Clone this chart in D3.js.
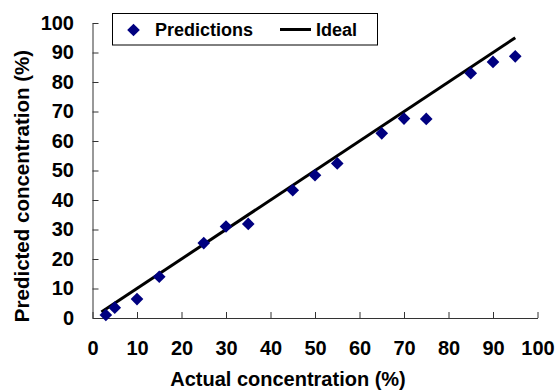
<!DOCTYPE html>
<html>
<head>
<meta charset="utf-8">
<script src="https://cdn.jsdelivr.net/npm/d3@7"></script>
<style>
  body { margin: 0; background: #fff; }
  text { font-family: "Liberation Sans", Arial, sans-serif; font-weight: bold; }
</style>
</head>
<body>
<div id="chart"></div>
<script>
// values
const actual = [3, 5, 10, 15, 25, 30, 35, 45, 50, 55, 65, 70, 75, 85, 90, 95];
const predicted = [1.0, 3.5, 6.4, 14.0, 25.4, 31.0, 31.9, 43.3, 48.4, 52.4, 62.6, 67.6, 67.5, 83.0, 86.8, 88.7];
const idealLine = [2, 95];
const xTicks = [0, 10, 20, 30, 40, 50, 60, 70, 80, 90, 100];
const yTicks = [0, 10, 20, 30, 40, 50, 60, 70, 80, 90, 100];

const width = 556, height = 390;
const margin = { left: 92.5, right: 18.5, top: 23, bottom: 72 };

const svg = d3.select('#chart')
  .append('svg')
  .attr('width', width)
  .attr('height', height);

const x = d3.scaleLinear().domain([0, 100]).range([margin.left, width - margin.right]);
const y = d3.scaleLinear().domain([0, 100]).range([height - margin.bottom, margin.top]);

// axes, ticks point inward
const xAxis = svg.append('g')
  .attr('transform', `translate(0,${y(0)})`)
  .call(d3.axisBottom(x).tickValues(xTicks).tickSizeInner(-6).tickSizeOuter(0).tickPadding(23));
const yAxis = svg.append('g')
  .attr('transform', `translate(${x(0)},0)`)
  .call(d3.axisLeft(y).tickValues(yTicks).tickSizeInner(-6).tickSizeOuter(0).tickPadding(18.5));

[xAxis, yAxis].forEach(g => {
  g.select('.domain').attr('stroke', '#333');
  g.selectAll('.tick line').attr('stroke', '#333');
  g.selectAll('.tick text')
    .attr('fill', '#000')
    .style('font-size', '20px')
    .style('font-family', '"Liberation Sans", Arial, sans-serif')
    .style('font-weight', 'bold');
});

// ideal line y = x
svg.append('line')
  .attr('x1', x(idealLine[0])).attr('y1', y(idealLine[0]))
  .attr('x2', x(idealLine[1])).attr('y2', y(idealLine[1]))
  .attr('stroke', '#000')
  .attr('stroke-width', 3);

// prediction diamonds
const diamond = d3.symbol().type(d3.symbolSquare).size(80);
svg.selectAll('path.pt')
  .data(actual)
  .enter()
  .append('path')
  .attr('class', 'pt')
  .attr('d', diamond)
  .attr('transform', (d, i) => `translate(${x(d)},${y(predicted[i])}) rotate(45)`)
  .attr('fill', '#000080');

// axis titles
svg.append('text')
  .attr('x', 288)
  .attr('y', 386)
  .attr('text-anchor', 'middle')
  .style('font-size', '20px')
  .text('Actual concentration (%)');

svg.append('text')
  .attr('transform', 'translate(28.5,186) rotate(-90)')
  .attr('text-anchor', 'middle')
  .style('font-size', '20.5px')
  .text('Predicted concentration (%)');

// legend
const legend = svg.append('g');
legend.append('rect')
  .attr('x', 112.5).attr('y', 13.5)
  .attr('width', 265).attr('height', 31.5)
  .attr('fill', '#fff')
  .attr('stroke', '#000')
  .attr('stroke-width', 1);
legend.append('path')
  .attr('d', diamond)
  .attr('transform', 'translate(133.5,30) rotate(45)')
  .attr('fill', '#000080');
legend.append('text')
  .attr('x', 155).attr('y', 36)
  .style('font-size', '18px')
  .text('Predictions');
legend.append('line')
  .attr('x1', 280).attr('x2', 311)
  .attr('y1', 29.5).attr('y2', 29.5)
  .attr('stroke', '#000')
  .attr('stroke-width', 3);
legend.append('text')
  .attr('x', 316).attr('y', 36)
  .style('font-size', '18px')
  .text('Ideal');
</script>
</body>
</html>
